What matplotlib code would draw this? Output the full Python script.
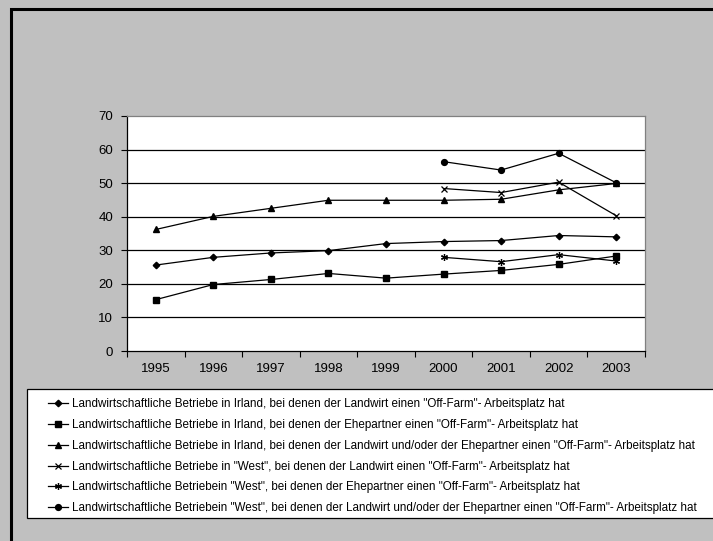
import matplotlib
matplotlib.use('Agg')
import matplotlib.pyplot as plt
from matplotlib.patches import Rectangle
import numpy as np

years = ['1995', '1996', '1997', '1998', '1999', '2000', '2001', '2002', '2003']

# Irland (1995-2003)
irl_landwirt = [25.6, 27.9, 29.2, 29.9, 32.0, 32.6, 32.9, 34.4, 34.0]
irl_ehepartner = [15.3, 19.8, 21.3, 23.1, 21.7, 22.9, 24.0, 25.8, 28.3]
irl_beide = [36.2, 40.1, 42.5, 44.9, 44.9, 44.9, 45.2, 48.0, 49.9]

# West (2000-2003)
west_years = ['2000', '2001', '2002', '2003']
west_landwirt = [48.4, 47.2, 50.3, 40.3]
west_ehepartner = [27.9, 26.6, 28.7, 26.8]
west_beide = [56.4, 53.9, 58.9, 50.1]

labels = [
    'Landwirtschaftliche Betriebe in Irland, bei denen der Landwirt einen "Off-Farm"- Arbeitsplatz hat',
    'Landwirtschaftliche Betriebe in Irland, bei denen der Ehepartner einen "Off-Farm"- Arbeitsplatz hat',
    'Landwirtschaftliche Betriebe in Irland, bei denen der Landwirt und/oder der Ehepartner einen "Off-Farm"- Arbeitsplatz hat',
    'Landwirtschaftliche Betriebe in "West", bei denen der Landwirt einen "Off-Farm"- Arbeitsplatz hat',
    'Landwirtschaftliche Betriebein "West", bei denen der Ehepartner einen "Off-Farm"- Arbeitsplatz hat',
    'Landwirtschaftliche Betriebein "West", bei denen der Landwirt und/oder der Ehepartner einen "Off-Farm"- Arbeitsplatz hat',
]

plt.rcParams['font.family'] = ['Liberation Sans', 'DejaVu Sans']

W, H = 713, 541
fig = plt.figure(figsize=(W / 100, H / 100), dpi=100)
fig.patch.set_facecolor('#c0c0c0')

# outer frame (only top and left edges fall inside the picture)
fig.patches.append(Rectangle((11 / W, -0.1), 1.2, 1 - 9 / H + 0.1, transform=fig.transFigure,
                             fill=False, edgecolor='black', linewidth=2.2, zorder=0))

# legend box
fig.patches.append(Rectangle((27 / W, 1 - 518 / H), 1.2, (518 - 389) / H, transform=fig.transFigure,
                             facecolor='white', edgecolor='black', linewidth=0.9, zorder=1))

ax = fig.add_axes([127 / W, 1 - 351 / H, (645 - 127) / W, (351 - 116) / H])
ax.set_facecolor('white')

x = np.arange(len(years))
xw = np.array([years.index(y) for y in west_years])

kw = dict(color='black', linewidth=0.9, markeredgecolor='black', markerfacecolor='black')
ax.plot(x, irl_landwirt, marker='D', markersize=3.3, label=labels[0], **kw)
ax.plot(x, irl_ehepartner, marker='s', markersize=3.8, label=labels[1], **kw)
ax.plot(x, irl_beide, marker='^', markersize=4.5, label=labels[2], **kw)
ax.plot(xw, west_landwirt, marker='x', markersize=4.5, markeredgewidth=0.9, label=labels[3], **kw)
ax.plot(xw, west_ehepartner, marker=(6, 2, 0), markersize=5, markeredgewidth=0.9, label=labels[4], **kw)
ax.plot(xw, west_beide, marker='o', markersize=4.2, label=labels[5], **kw)

ax.set_xlim(-0.5, len(years) - 0.5)
ax.set_ylim(0, 70)
ax.set_yticks(np.arange(0, 71, 10))
ax.set_xticks(x)
ax.set_xticklabels(years)
ax.set_xticks(np.arange(-0.5, len(years)), minor=True)
ax.tick_params(axis='x', which='major', length=0, pad=9, labelsize=9.5)
ax.tick_params(axis='x', which='minor', length=4, width=0.8, direction='out')
ax.tick_params(axis='y', length=4, width=0.8, direction='out', pad=6, labelsize=9.5)

for y in range(10, 61, 10):
    ax.axhline(y, color='black', linewidth=0.9, zorder=1)

ax.spines['top'].set_color('#808080')
ax.spines['right'].set_color('#808080')
ax.spines['left'].set_color('black')
ax.spines['bottom'].set_color('black')
for s in ax.spines.values():
    s.set_linewidth(0.9)

handles, labs = ax.get_legend_handles_labels()
leg = fig.legend(handles, labs, loc='upper left',
                 bbox_to_anchor=(48 / W, 1 - 398 / H),
                 fontsize=8.4, frameon=False, handlelength=1.75,
                 handletextpad=0.35, labelspacing=0.76, borderpad=0, borderaxespad=0)
leg.set_zorder(2)

fig.savefig('out.png', dpi=100, facecolor=fig.get_facecolor())
